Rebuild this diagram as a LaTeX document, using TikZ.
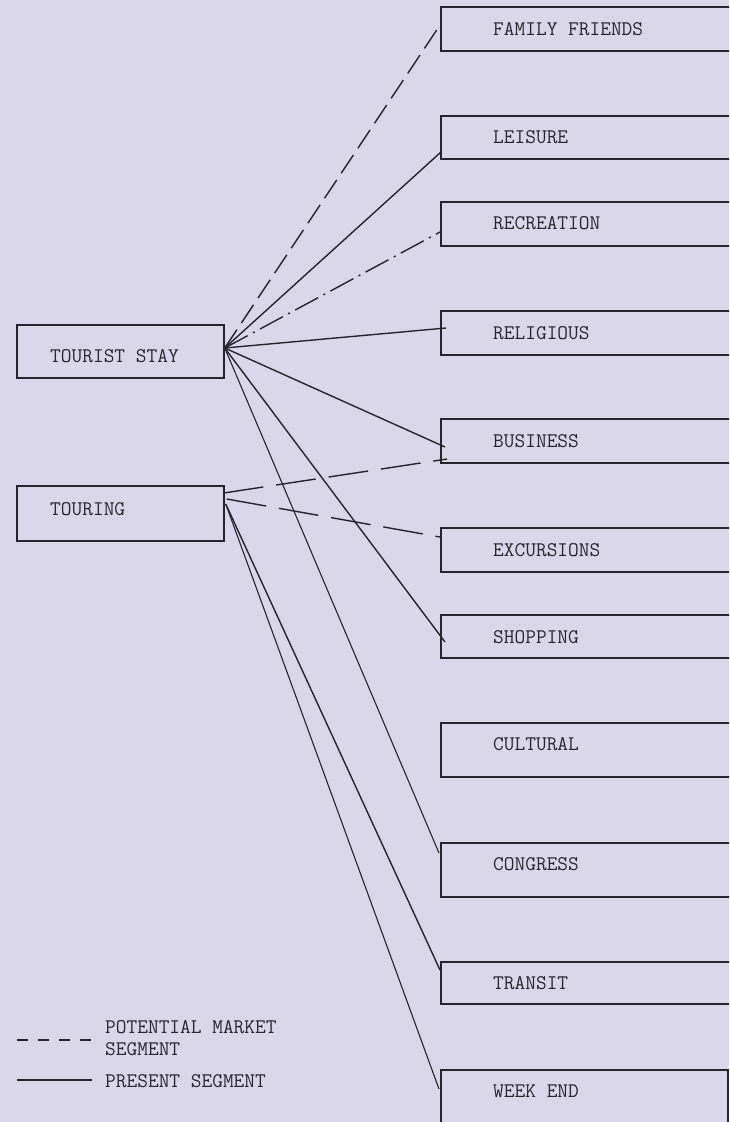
\documentclass[tikz,border=0pt]{standalone}
\usepackage{fontspec}
\usetikzlibrary{calc}
\definecolor{bg}{RGB}{219,215,234}
\definecolor{ink}{RGB}{38,37,46}
\definecolor{txt}{RGB}{40,39,48}
\begin{document}
\begin{tikzpicture}[x=1pt,y=-1pt,
  every node/.style={font=\ttfamily\fontsize{20.8}{21.5}\selectfont, text=txt},
  lbox/.style={draw=ink, line width=1.5pt, minimum width=207pt, inner sep=0pt},
  rbox/.style={draw=ink, line width=1.5pt, minimum width=330pt, anchor=west, inner sep=0pt},
  lbl/.style={anchor=west, inner sep=0pt, align=left},
  conn/.style={draw=ink, line width=1.4pt},
  potential/.style={conn, dash pattern=on 22pt off 8pt},
  potlong/.style={conn, dash pattern=on 40pt off 13pt},
  dashdotline/.style={conn, dash pattern=on 26pt off 6pt on 2pt off 6pt},
  legdash/.style={conn, dash pattern=on 11pt off 10pt}
]
\fill[bg] (0,0) rectangle (729,1122);
\useasboundingbox (0,0) rectangle (729,1122);
\clip (0,0) rectangle (729,1122);

% left boxes
\node[lbox, minimum height=53pt] (ts) at (120.5,351.5) {};
\node[lbl] (tst) at (50,356) {TOURIST STAY};
\node[lbox, minimum height=55pt] (tour) at (120.5,513.5) {};
\node[lbl] (tourt) at (50,509) {TOURING};

% right boxes
\node[rbox, minimum height=44pt] (ff) at (440,29) {};
\node[lbl] (fft) at (493,29) {FAMILY FRIENDS};
\node[rbox, minimum height=43pt] (lei) at (440,137.5) {};
\node[lbl] (leit) at (493,137.5) {LEISURE};
\node[rbox, minimum height=44pt] (rec) at (440,224) {};
\node[lbl] (rect) at (493,223.5) {RECREATION};
\node[rbox, minimum height=44pt] (rel) at (440,333) {};
\node[lbl] (relt) at (493,333) {RELIGIOUS};
\node[rbox, minimum height=44pt] (bus) at (440,441) {};
\node[lbl] (bust) at (493,441.5) {BUSINESS};
\node[rbox, minimum height=44pt] (exc) at (440,550) {};
\node[lbl] (exct) at (493,550) {EXCURSIONS};
\node[rbox, minimum height=43pt] (shop) at (440,636.5) {};
\node[lbl] (shopt) at (493,637.5) {SHOPPING};
\node[rbox, minimum height=54pt] (cult) at (440,750) {};
\node[lbl] (cultt) at (493,744) {CULTURAL};
\node[rbox, minimum height=54pt] (cong) at (440,870) {};
\node[lbl] (congt) at (493,864.5) {CONGRESS};
\node[rbox, minimum height=42pt] (tran) at (440,983) {};
\node[lbl] (trant) at (493,983) {TRANSIT};
\node[rbox, minimum height=66pt, minimum width=287pt] (week) at (440,1103) {};
\node[lbl] (weekt) at (493,1091) {WEEK END};

% sources
\coordinate (tsout) at ($(ts.east)+(0,-3.5)$);
\coordinate (tourb) at ($(tour.east)+(-1,-20.5)$);
\coordinate (toure) at ($(tour.east)+(2,-14.5)$);
\coordinate (tourd) at ($(tour.east)+(1,-9.5)$);

% tourist stay connectors
\draw[potential] (tsout) -- ($(ff.west)+(0,-4)$);
\draw[conn] (tsout) -- ($(lei.west)+(1,14.5)$);
\draw[dashdotline] (tsout) -- ($(rec.west)+(0,8)$);
\draw[conn] (tsout) -- ($(rel.west)+(6,-5)$);
\draw[conn] (tsout) -- ($(bus.west)+(5,6)$);
\draw[conn] (tsout) -- ($(shop.west)+(5,5.5)$);
\draw[conn, line width=1.1pt] (tsout) -- ($(cong.west)+(-1,-17)$);

% touring connectors
\draw[potlong] (tourb) -- ($(bus.west)+(7,18)$);
\draw[potlong] (toure) -- ($(exc.west)+(0,-13)$);
\draw[conn] (tourd) -- ($(tran.west)+(0,-13)$);
\draw[conn, line width=1.1pt] (tourd) -- ($(week.west)+(-1,-14)$);

% legend
\coordinate (l1a) at (17,1040);
\coordinate (l1b) at (92,1040);
\draw[legdash] (l1a) -- (l1b);
\node[lbl] (legpot) at (105,1038) {POTENTIAL MARKET\\SEGMENT};
\coordinate (l2a) at (17,1080);
\coordinate (l2b) at (92,1080);
\draw[conn] (l2a) -- (l2b);
\node[lbl] (legpres) at (105,1081) {PRESENT SEGMENT};
\end{tikzpicture}
\end{document}
